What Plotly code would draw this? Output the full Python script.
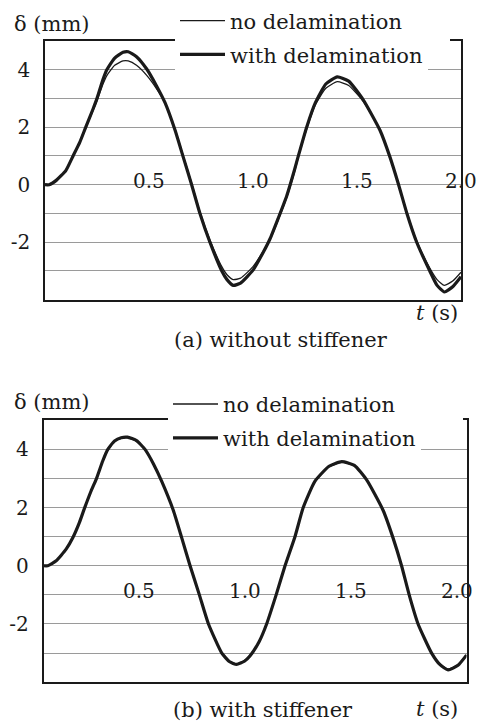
import plotly.graph_objects as go

# ---------------- data ----------------
t_a = [0, 0.02, 0.054, 0.10, 0.135, 0.167, 0.196, 0.231, 0.25, 0.279, 0.298, 0.335, 0.375,
       0.40, 0.44, 0.489, 0.535, 0.577, 0.625, 0.665, 0.705, 0.745, 0.793, 0.85, 0.875,
       0.905, 0.94, 1.0, 1.05, 1.082, 1.12, 1.162, 1.20, 1.218, 1.258, 1.30, 1.35, 1.405,
       1.46, 1.53, 1.61, 1.659, 1.70, 1.74, 1.787, 1.85, 1.885, 1.92, 1.96, 2.0]
a_with = [0, 0.0, 0.15, 0.49, 1.0, 1.47, 2.0, 2.63, 3.0, 3.66, 4.0, 4.4, 4.6,
          4.62, 4.45, 4.02, 3.45, 2.85, 1.9, 0.95, 0.0, -1.0, -2.0, -3.0, -3.3,
          -3.5, -3.42, -2.97, -2.34, -1.88, -1.19, -0.39, 0.53, 1.0, 2.0, 2.85, 3.5, 3.75,
          3.6, 2.95, 1.9, 0.95, 0.0, -1.0, -2.0, -3.0, -3.5, -3.73, -3.55, -3.2]
a_no = [0, 0.0, 0.15, 0.49, 1.0, 1.46, 1.97, 2.58, 2.92, 3.5, 3.8, 4.15, 4.3,
        4.3, 4.15, 3.8, 3.35, 2.85, 1.93, 1.0, 0.05, -0.95, -1.92, -2.85, -3.13,
        -3.3, -3.25, -2.85, -2.3, -1.9, -1.25, -0.45, 0.45, 0.95, 1.93, 2.78, 3.35, 3.58,
        3.45, 2.9, 1.92, 0.97, 0.02, -0.97, -1.95, -2.9, -3.3, -3.5, -3.35, -3.04]

t_b = [0, 0.02, 0.06, 0.107, 0.139, 0.17, 0.194, 0.225, 0.249, 0.28, 0.304, 0.336, 0.367,
       0.397, 0.44, 0.48, 0.52, 0.559, 0.614, 0.654, 0.693, 0.737, 0.78, 0.843, 0.88, 0.913,
       0.95, 0.976, 1.02, 1.055, 1.10, 1.142, 1.189, 1.228, 1.283, 1.35, 1.41, 1.47, 1.528,
       1.606, 1.653, 1.693, 1.729, 1.771, 1.835, 1.875, 1.913, 1.96, 2.0]
b_with = [0, 0.0, 0.17, 0.57, 0.97, 1.49, 1.98, 2.57, 2.97, 3.6, 4.0, 4.29, 4.4,
          4.42, 4.3, 4.0, 3.5, 2.9, 1.9, 0.95, 0.0, -1.0, -2.0, -3.0, -3.3, -3.39,
          -3.28, -3.1, -2.6, -2.0, -1.0, 0.0, 1.0, 2.0, 2.9, 3.42, 3.58, 3.45, 2.95,
          1.9, 0.95, 0.0, -1.0, -2.0, -3.0, -3.4, -3.58, -3.42, -3.07]
b_no = [0, 0.0, 0.17, 0.57, 0.97, 1.48, 1.97, 2.56, 2.96, 3.58, 3.98, 4.27, 4.38,
        4.4, 4.28, 3.98, 3.49, 2.9, 1.9, 0.95, 0.0, -1.0, -2.0, -2.98, -3.28, -3.37,
        -3.26, -3.08, -2.6, -2.0, -1.0, 0.0, 1.0, 2.0, 2.88, 3.4, 3.56, 3.43, 2.95,
        1.9, 0.95, 0.0, -1.0, -2.0, -2.98, -3.38, -3.55, -3.4, -3.05]

x_tick_vals = [0.5, 1.0, 1.5, 2.0]
x_tick_text = ["0.5", "1.0", "1.5", "2.0"]
y_tick_vals = [-3, -2, -1, 0, 1, 2, 3, 4]
y_tick_text = ["", "-2", "", "0", "", "2", "", "4"]
series_names = ["no delamination", "with delamination"]
captions = ["(a) without stiffener", "(b) with stiffener"]

# ---------------- figure ----------------
W, H = 483, 724
FONT = "DejaVu Serif"
INK = "#1a1a1a"


def px_x(v):
    return v / W


def px_y(v):
    return 1 - v / H


fig = go.Figure()

panels = [
    dict(t=t_a, no=a_no, wi=a_with, xa="x", ya="y", lgs=("legend", "legend2")),
    dict(t=t_b, no=b_no, wi=b_with, xa="x2", ya="y2", lgs=("legend3", "legend4")),
]
for p in panels:
    fig.add_trace(go.Scatter(x=p["t"], y=p["no"], mode="lines", name=series_names[0],
                             line=dict(color=INK, width=1.3, shape="spline", smoothing=0.5),
                             xaxis=p["xa"], yaxis=p["ya"], legend=p["lgs"][0]))
    fig.add_trace(go.Scatter(x=p["t"], y=p["wi"], mode="lines", name=series_names[1],
                             line=dict(color=INK, width=3.2, shape="spline", smoothing=0.5),
                             xaxis=p["xa"], yaxis=p["ya"], legend=p["lgs"][1]))

axis_common_x = dict(range=[0, 2], showgrid=False, showticklabels=False, zeroline=False,
                     showline=True, mirror=True, linecolor=INK, linewidth=1.6, ticks="")
axis_common_y = dict(range=[-4, 5], tickmode="array", tickvals=y_tick_vals, ticktext=y_tick_text,
                     showgrid=True, gridcolor="#9a9a9a", gridwidth=1, zeroline=False,
                     showline=True, mirror=True, linecolor=INK, linewidth=1.6, ticks="",
                     ticklabelstandoff=9, tickfont=dict(family=FONT, size=20, color=INK))

legend_common = dict(bgcolor="white", borderwidth=0, font=dict(family=FONT, size=21, color=INK),
                     xanchor="left", yanchor="middle", itemwidth=45, orientation="h")

fig.update_layout(
    width=W, height=H,
    margin=dict(l=0, r=0, t=0, b=0),
    paper_bgcolor="white", plot_bgcolor="white",
    showlegend=True,
    xaxis=dict(domain=[px_x(45), px_x(461)], anchor="y", **axis_common_x),
    yaxis=dict(domain=[px_y(298), px_y(38)], anchor="x", **axis_common_y),
    xaxis2=dict(domain=[px_x(43.5), px_x(466.5)], anchor="y2", **axis_common_x),
    yaxis2=dict(domain=[px_y(682), px_y(419)], anchor="x2", **axis_common_y),
    legend=dict(x=px_x(175), y=px_y(18), entrywidth=215, **legend_common),
    legend2=dict(x=px_x(175), y=px_y(52), **legend_common),
    legend3=dict(x=px_x(168), y=px_y(403), entrywidth=235, **legend_common),
    legend4=dict(x=px_x(168), y=px_y(437), **legend_common),
)

annos = []
# x tick labels drawn inside the plot area
for xv, xt in zip(x_tick_vals, x_tick_text):
    annos.append(dict(x=xv, y=0, xref="x", yref="y", text=xt, showarrow=False,
                      xanchor="center", yanchor="middle", yshift=4,
                      font=dict(family=FONT, size=20, color=INK)))
    annos.append(dict(x=xv, y=0, xref="x2", yref="y2", text=xt, showarrow=False,
                      xanchor="center", yanchor="middle", xshift=-10, yshift=-25,
                      font=dict(family=FONT, size=20, color=INK)))
# axis titles and captions
for ytitle, ttitle in [(21, 311), (401, 709)]:
    annos.append(dict(x=px_x(52), y=px_y(ytitle), xref="paper", yref="paper", text="δ (mm)",
                      showarrow=False, xanchor="center", yanchor="middle",
                      font=dict(family=FONT, size=21, color=INK)))
    annos.append(dict(x=px_x(437), y=px_y(ttitle), xref="paper", yref="paper", text="<i>t</i> (s)",
                      showarrow=False, xanchor="center", yanchor="middle",
                      font=dict(family=FONT, size=21, color=INK)))
annos.append(dict(x=px_x(281), y=px_y(338), xref="paper", yref="paper", text=captions[0],
                  showarrow=False, xanchor="center", yanchor="middle",
                  font=dict(family=FONT, size=21, color=INK)))
annos.append(dict(x=px_x(263), y=px_y(710), xref="paper", yref="paper", text=captions[1],
                  showarrow=False, xanchor="center", yanchor="middle",
                  font=dict(family=FONT, size=21, color=INK)))
fig.update_layout(annotations=annos)

fig.write_html("out.html", config={"displayModeBar": False},
               post_script="document.body.style.margin='0px';")
